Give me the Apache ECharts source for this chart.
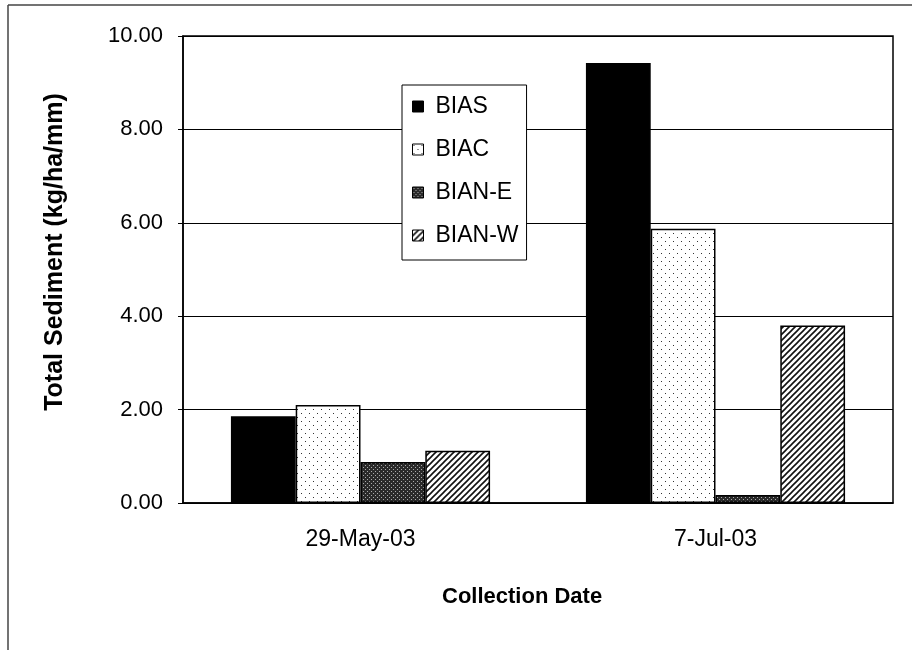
<!DOCTYPE html>
<html><head><meta charset="utf-8">
<script src="https://cdn.jsdelivr.net/npm/echarts@6/dist/echarts.min.js"></script>
<style>html,body{margin:0;padding:0;background:#fff}#c{width:912px;height:650px}</style>
</head><body><div id="c"></div>
<script>
const categories = ['29-May-03', '7-Jul-03'];
const seriesNames = ['BIAS', 'BIAC', 'BIAN-E', 'BIAN-W'];
const bias = [1.86, 9.42];
const biac = [2.10, 5.87];
const bianE = [0.88, 0.17];
const bianW = [1.12, 3.80];
const yTicks = [0, 2, 4, 6, 8, 10];

function pat(w, h, draw) {
  const c = document.createElement('canvas');
  c.width = w; c.height = h;
  const g = c.getContext('2d');
  draw(g);
  return { image: c, repeat: 'repeat' };
}
const dotsPat = pat(8, 8, g => {
  g.fillStyle = '#fff'; g.fillRect(0, 0, 8, 8);
  g.fillStyle = '#333'; g.fillRect(1, 1, 1, 1); g.fillRect(5, 5, 1, 1);
});
const densePat = pat(4, 4, g => {
  g.fillStyle = '#2a2a2a'; g.fillRect(0, 0, 4, 4);
  g.fillStyle = '#aaa'; g.fillRect(1, 1, 1, 1); g.fillRect(3, 3, 1, 1);
});
const hatchPat = pat(6, 6, g => {
  g.fillStyle = '#fff'; g.fillRect(0, 0, 6, 6);
  g.strokeStyle = '#111'; g.lineWidth = 1.6;
  g.beginPath();
  g.moveTo(-1, 7); g.lineTo(7, -1);
  g.moveTo(-4, 4); g.lineTo(4, -4);
  g.moveTo(2, 10); g.lineTo(10, 2);
  g.stroke();
});
const fills = ['#000', dotsPat, densePat, hatchPat];
const values = [bias, biac, bianE, bianW];

const FONT = 'Liberation Sans, Arial, sans-serif';
const chart = echarts.init(document.getElementById('c'));
chart.setOption({
  animation: false,
  backgroundColor: '#fff',
  textStyle: { fontFamily: FONT },
  grid: { left: 183, right: 19, top: 36, bottom: 147, show: true, borderColor: '#000', borderWidth: 1.5, backgroundColor: 'transparent' },
  legend: {
    orient: 'vertical', left: 402, top: 85,
    padding: [10, 8, 13, 10], itemGap: 20,
    itemWidth: 11, itemHeight: 11, icon: 'rect',
    borderColor: '#000', borderWidth: 1, backgroundColor: '#fff',
    textStyle: { fontSize: 23, color: '#000', fontFamily: FONT, padding: [0, 0, 0, 7] },
    data: seriesNames.map((n, i) => ({ name: n, itemStyle: { color: fills[i], borderColor: '#000', borderWidth: 1 } }))
  },
  xAxis: {
    type: 'category', data: categories,
    axisLine: { lineStyle: { color: '#000', width: 1.5 } },
    axisTick: { show: false },
    axisLabel: { fontSize: 23, color: '#000', margin: 25, fontFamily: FONT }
  },
  yAxis: {
    type: 'value', min: 0, max: 10, interval: 2,
    axisLine: { show: true, lineStyle: { color: '#000', width: 1.5 } },
    axisTick: { show: true, length: 5, lineStyle: { color: '#000' } },
    axisLabel: { fontSize: 22, color: '#000', margin: 20, fontFamily: FONT,
      formatter: v => yTicks.includes(v) ? v.toFixed(2) : '' },
    splitLine: { lineStyle: { color: '#000', width: 1 } }
  },
  series: seriesNames.map((n, i) => ({
    name: n, type: 'bar', data: values[i],
    barGap: '0%', barCategoryGap: '27%',
    itemStyle: { color: fills[i], borderColor: '#000', borderWidth: 1.5 }
  })),
  graphic: [
    { type: 'line', shape: { x1: 8, y1: 5, x2: 912, y2: 5 }, style: { stroke: '#444', lineWidth: 1.5 } },
    { type: 'line', shape: { x1: 8, y1: 5, x2: 8, y2: 650 }, style: { stroke: '#444', lineWidth: 1.5 } },
    { type: 'text', left: 442, top: 586, style: { text: 'Collection Date', font: 'bold 22px ' + FONT, fill: '#000' } },
    { type: 'text', x: 55, y: 252, rotation: Math.PI / 2, style: { text: 'Total Sediment (kg/ha/mm)', font: 'bold 25px ' + FONT, fill: '#000', align: 'center', verticalAlign: 'middle' } }
  ]
});
</script></body></html>
